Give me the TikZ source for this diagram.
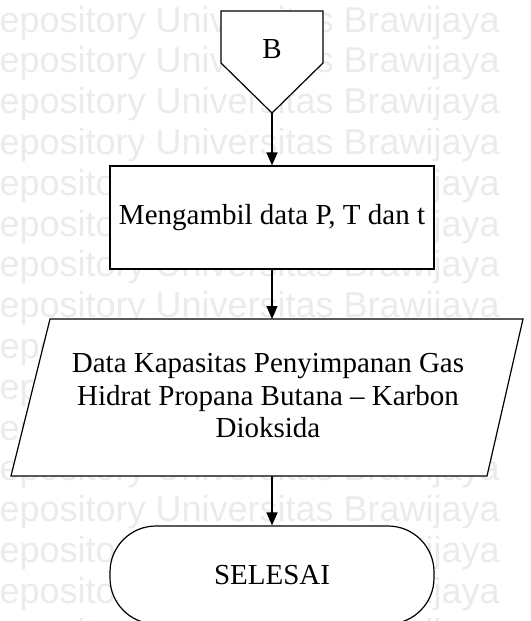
\documentclass[tikz,border=0pt]{standalone}
\usepackage{fontspec}
\setmainfont{Liberation Serif}
\newfontfamily\wmfont{Liberation Sans}
\usetikzlibrary{positioning, calc, arrows.meta}
\definecolor{Ink}{HTML}{000000}
\definecolor{Mark}{HTML}{EBEBEB}
\tikzset{
    flowtext/.style={align=center, text=Ink, font=\fontsize{29}{32.5}\selectfont},
    boxnode/.style={rectangle, draw=Ink, fill=white, line width=1.2pt, minimum width=324pt, minimum height=103pt, flowtext},
    endnode/.style={rectangle, rounded corners=46pt, draw=Ink, fill=white, line width=1.2pt, minimum width=324pt, minimum height=98pt, flowtext},
    shapeline/.style={draw=Ink, fill=white, line width=1.2pt},
    arrow/.style={-{Triangle[width=11pt, length=13pt]}, line width=1.2pt, color=Ink},
    watermark/.style={anchor=base east, inner sep=0pt, text=Mark, font=\wmfont\fontsize{36}{40}\selectfont},
}

\begin{document}
\begin{tikzpicture}[x=1pt, y=-1pt]
    \useasboundingbox (0,0) rectangle (530,621);
    \clip (0,0) rectangle (530,621);

    % Watermark di sfondo
    \foreach \row in {0,...,15}
        \node[watermark] (mark\row) at (500,{32+40.8*\row}) {Repository Universitas Brawijaya};

    % Konektor B
    \draw[shapeline] (221,11) -- (323,11) -- (323,63) -- (272,113) -- (221,63) -- cycle;
    \node[flowtext] (conB) at (272,49.5) {B};
    \coordinate (conBtip) at (272,113);

    % Proses
    \node[boxnode] (ambil) at (272,217.5) {Mengambil data P, T dan t};

    % Data (jajar genjang)
    \draw[shapeline] (50,319) -- (523,319) -- (487,476) -- (11,476) -- cycle;
    \node[flowtext] (data) at (268,396) {Data Kapasitas Penyimpanan Gas\\Hidrat Propana Butana -- Karbon\\Dioksida};
    \coordinate (dataTop) at (272,319);
    \coordinate (dataBot) at (272,476);

    % Terminator
    \node[endnode] (selesai) at (272,575) {SELESAI};

    % Panah
    \draw[arrow] (conBtip) -- (ambil.north);
    \draw[arrow] (ambil.south) -- (dataTop);
    \draw[arrow] (dataBot) -- (selesai.north);
\end{tikzpicture}
\end{document}
